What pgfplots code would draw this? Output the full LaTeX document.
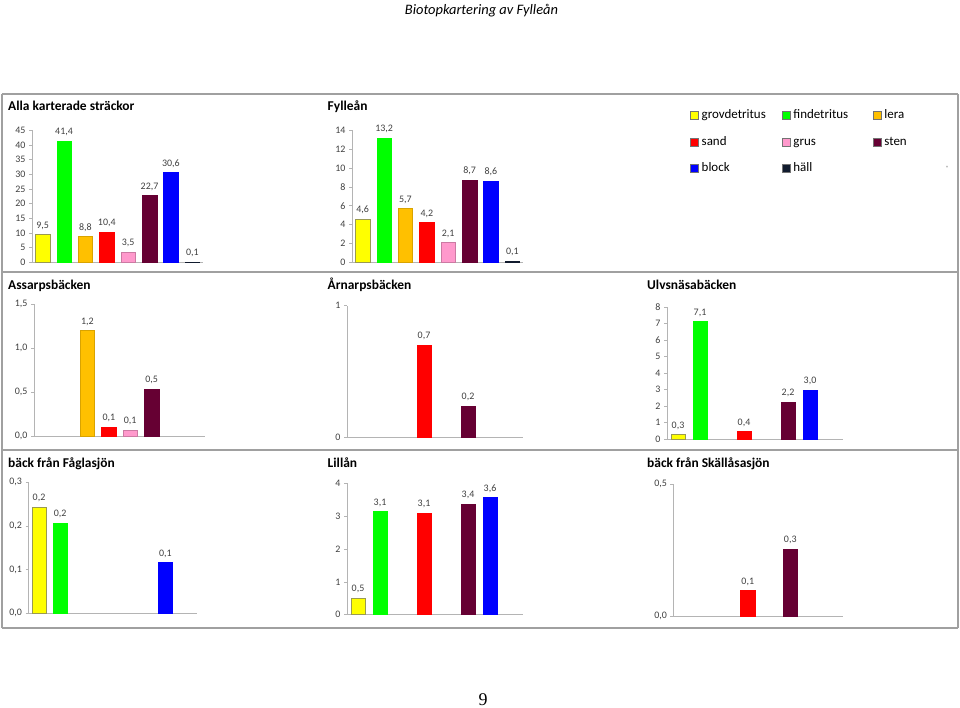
\documentclass[border=0pt]{standalone}
\usepackage{pgfplots}
\pgfplotsset{compat=1.18}
\usepackage{fontspec}
\setmainfont{Carlito}
\newfontfamily\pagefont{Liberation Serif}

\definecolor{cgd}{HTML}{FFFF00}
\definecolor{cgdE}{HTML}{9A9A50}
\definecolor{cfd}{HTML}{00FF00}
\definecolor{cle}{HTML}{FFC000}
\definecolor{csa}{HTML}{FF0000}
\definecolor{cgr}{HTML}{FF99CC}
\definecolor{cst}{HTML}{660033}
\definecolor{cbl}{HTML}{0000FF}
\definecolor{cha}{HTML}{111B2E}
\definecolor{axgray}{HTML}{B4B4B4}
\definecolor{frame}{HTML}{A0A0A0}
\definecolor{tickc}{HTML}{404040}

\pgfplotsset{
  panel/.style={
    scale only axis, anchor=south west, clip=false,
    xmin=-0.5, xmax=7.5, ymin=0,
    axis x line=bottom, axis y line=left,
    axis line style={-, draw=axgray, line width=0.7pt},
    xtick=\empty,
    ytick pos=left, tick align=outside, major tick length=3bp,
    major tick style={draw=axgray, line width=0.6pt},
    tick label style={font=\fontsize{10}{12}\selectfont, text=tickc},
    /pgf/number format/assume math mode=true,
    /pgf/number format/use comma,
    nodes near coords={\pgfmathprintnumber[fixed,fixed zerofill,precision=1,use comma,assume math mode=true]{\pgfplotspointmeta}},
    every node near coord/.append style={font=\fontsize{10}{12}\selectfont, text=tickc, yshift=1.5bp},
  },
  dec/.style={yticklabel={\pgfmathprintnumber[fixed,fixed zerofill,precision=1,use comma,assume math mode=true]{\tick}}},
  b/.style={ybar, bar width=14.5bp, bar shift=0pt, line width=0.5pt},
  gd/.style={b, fill=cgd, draw=cgdE},
  fd/.style={b, fill=cfd, draw=cfd},
  le/.style={b, fill=cle, draw=cle!85!black},
  sa/.style={b, fill=csa, draw=csa},
  gr/.style={b, fill=cgr, draw=cgr!80!black},
  st/.style={b, fill=cst, draw=cst},
  bl/.style={b, fill=cbl, draw=cbl},
  ha/.style={b, fill=cha, draw=cha},
}

\newcommand{\ptitle}[3]{\node[anchor=base west, inner sep=0pt, font=\fontsize{13.5}{16}\selectfont\bfseries] at (#1,#2) {#3};}
\newcommand{\legitem}[4]{%
  \filldraw[fill=#4, draw=black!55, line width=0.4pt] (#1,#2-4) rectangle ++(8,8);
  \node[anchor=west, inner sep=0pt, font=\fontsize{13}{15}\selectfont] at (#1+11.5,#2) {\strut #3};}

\begin{document}
\begin{tikzpicture}[x=1bp, y=1bp]
\path[use as bounding box] (0,0) rectangle (960,708);

% header and page number
\node[anchor=base, inner sep=0pt, font=\fontsize{14.5}{17}\selectfont\itshape] at (481.5,693) {Biotopkartering av Fylleån};
\node[anchor=base, inner sep=0pt, font=\pagefont\fontsize{18}{20}\selectfont] at (483,2.5) {9};

% panel frames
\draw[frame, line width=1.2pt] (2,614) -- (958,614) (2,436) -- (958,436) (2,258) -- (958,258) (2,80) -- (958,80);
\draw[frame, line width=1.2pt] (2,614) -- (2,80) (958,614) -- (958,80);

% titles
\ptitle{8}{597.3}{Alla karterade sträckor}
\ptitle{327.5}{597.3}{Fylleån}
\ptitle{8}{418.7}{Assarpsbäcken}
\ptitle{327.5}{418.7}{Årnarpsbäcken}
\ptitle{647}{418.7}{Ulvsnäsabäcken}
\ptitle{8}{240.7}{bäck från Fåglasjön}
\ptitle{327.5}{240.7}{Lillån}
\ptitle{647}{240.7}{bäck från Skällåsasjön}

% legend
\legitem{690}{592.3}{grovdetritus}{cgd}
\legitem{781.7}{592.3}{findetritus}{cfd}
\legitem{872.7}{592.3}{lera}{cle}
\legitem{690}{565.7}{sand}{csa}
\legitem{781.7}{565.7}{grus}{cgr}
\legitem{872.7}{565.7}{sten}{cst}
\legitem{690}{539.7}{block}{cbl}
\legitem{781.7}{539.7}{häll}{cha}
\node[inner sep=0pt, font=\fontsize{6}{6}\selectfont, text=black!60] at (947,540) {''};

% Alla karterade strackor
\begin{axis}[panel, at={(32bp,445.7bp)}, width=171bp, height=132bp, ymax=45, ytick={0,5,...,45}]
\addplot[gd] coordinates {(0,9.5)};
\addplot[fd] coordinates {(1,41.4)};
\addplot[le] coordinates {(2,8.8)};
\addplot[sa] coordinates {(3,10.4)};
\addplot[gr] coordinates {(4,3.5)};
\addplot[st] coordinates {(5,22.7)};
\addplot[bl] coordinates {(6,30.6)};
\addplot[ha] coordinates {(7,0.1)};
\end{axis}

% Fyllean
\begin{axis}[panel, at={(352bp,445.7bp)}, width=171bp, height=132bp, ymax=14, ytick={0,2,...,14}]
\addplot[gd] coordinates {(0,4.6)};
\addplot[fd] coordinates {(1,13.2)};
\addplot[le] coordinates {(2,5.7)};
\addplot[sa] coordinates {(3,4.2)};
\addplot[gr] coordinates {(4,2.1)};
\addplot[st] coordinates {(5,8.7)};
\addplot[bl] coordinates {(6,8.6)};
\addplot[ha] coordinates {(7,0.1)};
\end{axis}

% Assarpsbacken
\begin{axis}[panel, dec, at={(34bp,271.7bp)}, width=171bp, height=132bp, ymax=1.5, ytick={0,0.5,1,1.5}]
\addplot[le] coordinates {(2,1.2)};
\addplot[sa] coordinates {(3,0.106)};
\addplot[gr] coordinates {(4,0.072)};
\addplot[st] coordinates {(5,0.537)};
\end{axis}

% Arnarpsbacken
\begin{axis}[panel, at={(347bp,270.3bp)}, width=176bp, height=132bp, ymax=1, ytick={0,1}]
\addplot[sa] coordinates {(3,0.70)};
\addplot[st] coordinates {(5,0.24)};
\end{axis}

% Ulvsnasabacken
\begin{axis}[panel, at={(667bp,269bp)}, width=176bp, height=131.7bp, ymax=8, ytick={0,1,...,8}]
\addplot[gd] coordinates {(0,0.27)};
\addplot[fd] coordinates {(1,7.13)};
\addplot[sa] coordinates {(3,0.44)};
\addplot[st] coordinates {(5,2.23)};
\addplot[bl] coordinates {(6,2.96)};
\end{axis}

% back fran Faglasjon
\begin{axis}[panel, dec, at={(28.5bp,94.7bp)}, width=168.5bp, height=131bp, ymax=0.3, ytick={0,0.1,0.2,0.3}]
\addplot[gd] coordinates {(0,0.243)};
\addplot[fd] coordinates {(1,0.206)};
\addplot[bl] coordinates {(6,0.116)};
\end{axis}

% Lillan
\begin{axis}[panel, at={(347bp,93.3bp)}, width=176bp, height=131.4bp, ymax=4, ytick={0,1,...,4}]
\addplot[gd] coordinates {(0,0.51)};
\addplot[fd] coordinates {(1,3.14)};
\addplot[sa] coordinates {(3,3.10)};
\addplot[st] coordinates {(5,3.36)};
\addplot[bl] coordinates {(6,3.57)};
\end{axis}

% back fran Skallasasjon
\begin{axis}[panel, dec, at={(673.4bp,92bp)}, width=170bp, height=132bp, ymax=0.5, ytick={0,0.5}]
\addplot[sa] coordinates {(3,0.096)};
\addplot[st] coordinates {(5,0.254)};
\end{axis}
\end{tikzpicture}
\end{document}
